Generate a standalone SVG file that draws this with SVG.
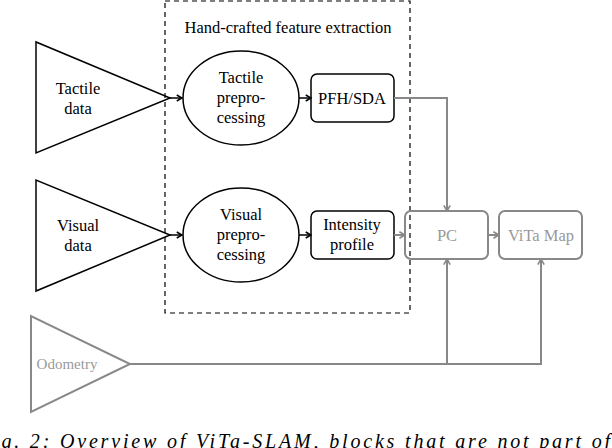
<svg xmlns="http://www.w3.org/2000/svg" width="612" height="448" viewBox="0 0 612 448">
<style>
text{font-family:"Liberation Serif",serif;font-size:16.5px;text-anchor:middle}
.k{fill:none;stroke:#000;stroke-width:1.5}
.g{fill:none;stroke:#888;stroke-width:2}
.gt{fill:#999}
.ka{fill:none;stroke:#000;stroke-width:1.5;marker-end:url(#ak)}
.ga{fill:none;stroke:#888;stroke-width:2;marker-end:url(#ag)}
</style>
<defs>
<marker id="ak" viewBox="0 0 10 10" refX="9" refY="5" markerWidth="5" markerHeight="5" orient="auto"><path d="M2,1 L9,5 L2,9" fill="none" stroke="#000" stroke-width="2"/></marker>
<marker id="ag" viewBox="0 0 10 10" refX="9" refY="5" markerWidth="4" markerHeight="4" orient="auto"><path d="M2,1 L9,5 L2,9" fill="none" stroke="#888" stroke-width="2"/></marker>
</defs>
<rect x="165" y="1" width="245" height="312" fill="none" stroke="#000" stroke-width="1.2" stroke-dasharray="5,4"/>
<text x="288" y="33">Hand-crafted feature extraction</text>
<g id="tactile"><polygon class="k" points="36,42 36,153 170,98"/><text x="78" y="94">Tactile</text><text x="78" y="114">data</text></g>
<g id="visual"><polygon class="k" points="36,180 36,291 170,235"/><text x="78" y="231">Visual</text><text x="78" y="251">data</text></g>
<g id="tpre"><ellipse class="k" cx="241" cy="98" rx="58" ry="47"/><text x="241" y="83">Tactile</text><text x="241" y="103">prepro-</text><text x="241" y="123">cessing</text></g>
<g id="vpre"><ellipse class="k" cx="241" cy="235" rx="58" ry="47"/><text x="241" y="220">Visual</text><text x="241" y="240">prepro-</text><text x="241" y="260">cessing</text></g>
<g id="pfh"><rect class="k" x="311" y="74" width="83" height="48" rx="6"/><text x="352" y="104">PFH/SDA</text></g>
<g id="int"><rect class="k" x="311" y="211" width="83" height="48" rx="6"/><text x="352" y="230">Intensity</text><text x="352" y="250">profile</text></g>
<g id="pc"><rect class="g" x="405" y="211" width="83" height="48" rx="6"/><text class="gt" x="447" y="241">PC</text></g>
<g id="map"><rect class="g" x="499" y="211" width="83" height="48" rx="6"/><text class="gt" x="541" y="241">ViTa Map</text></g>
<g id="odo"><polygon class="g" points="31,316 31,412 130,364"/><text class="gt" x="67" y="369" style="font-size:15px">Odometry</text></g>
<g id="connectors">
<path class="ka" d="M170,98 H182"/>
<path class="ka" d="M170,235 H182"/>
<path class="ka" d="M299,98 H311"/>
<path class="ka" d="M299,235 H311"/>
<path class="ga" d="M394,98 H447 V211"/>
<path class="ga" d="M394,235 H405"/>
<path class="ga" d="M488,235 H499"/>
<path class="ga" d="M130,364 H541 V259"/>
<path class="ga" d="M447,364 V259"/>
</g>
<text x="-22" y="448" textLength="632" lengthAdjust="spacing" style="font-size:20px;font-style:italic;text-anchor:start">Fig. 2: Overview of ViTa-SLAM, blocks that are not part of</text>
</svg>
